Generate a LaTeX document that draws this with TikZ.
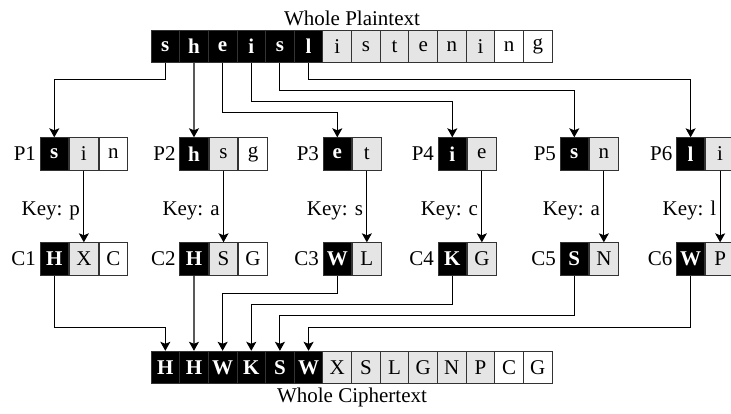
\documentclass[tikz,border=0pt]{standalone}
\usepackage{fontspec}
\setmainfont{Liberation Serif}
\usetikzlibrary{arrows.meta, positioning}
\tikzset{cell/.style = {draw = black!80, line width = 0.9pt, minimum width = 28.65pt, minimum height = 32.5pt, inner sep = 0pt}}
\tikzset{blk/.style = {cell, fill = black, text = white, font = \fontsize{21pt}{25pt}\selectfont\bfseries},
  gry/.style = {cell, fill = black!10}, wht/.style = {cell, fill = white}}
\tikzset{link/.style = {line width = 1.1pt, -{Stealth[length = 9pt, width = 10pt, inset = 2pt]}}}

\begin{document}
\begin{tikzpicture}[x = 1pt, y = -1pt, font = \fontsize{21pt}{25pt}\selectfont]
\useasboundingbox (0,0) rectangle (731,413);
% whole plaintext and ciphertext
\foreach \ltr/\sty [count=\i] in {s/blk, h/blk, e/blk, i/blk, s/blk, l/blk, i/gry, s/gry, t/gry, e/gry, n/gry, i/gry, n/wht, g/wht}
  \node [\sty] (t\i) at ({151 + 28.65*(\i - 0.5)}, 46.5) {\ltr};
\foreach \ltr/\sty [count=\i] in {H/blk, H/blk, W/blk, K/blk, S/blk, W/blk, X/gry, S/gry, L/gry, G/gry, N/gry, P/gry, C/wht, G/wht}
  \node [\sty] (b\i) at ({151 + 28.65*(\i - 0.5)}, 367.5) {\ltr};
\node [above = 0pt] (wp) at (t7.north east) {Whole Plaintext};
\node [below = 0pt] (wc) at (b7.south east) {Whole Ciphertext};
% columns
\foreach \n/\px/\pa/\pb/\ca/\cb in {1/54.3/s/i/H/X, 2/193.975/h/s/H/S, 3/337.3/e/t/W/L, 4/452.3/i/e/K/G, 5/574.3/s/n/S/N, 6/690.6/l/i/W/P} {
  \node [blk] (p\n a) at (\px, 154) {\pa};
  \node [gry, right = 0pt of p\n a] (p\n b) {\pb};
  \node [left = 0pt of p\n a] (lp\n) {P\n};
  \node [blk] (c\n a) at (\px, 259) {\ca};
  \node [gry, right = 0pt of c\n a] (c\n b) {\cb};
  \node [left = 0pt of c\n a] (lc\n) {C\n};
}
\node [wht, right = 0pt of p1b] (p1c) {n};
\node [wht, right = 0pt of p2b] (p2c) {g};
\node [wht, right = 0pt of c1b] (c1c) {C};
\node [wht, right = 0pt of c2b] (c2c) {G};
% keys
\foreach \n/\k in {1/p, 2/a, 3/s, 4/c, 5/a, 6/l}
  \draw [link] (p\n b.south) -- (c\n b.north) node [pos = 0.56, left] {Key: \k};
% plaintext to columns
\draw [link] (t1.south) -- ++(0,16.3) -| (p1a.north);
\draw [link] (t2.south) -- (p2a.north);
\draw [link] (t3.south) -- ++(0,49.7) -| (p3a.north);
\draw [link] (t4.south) -- ++(0,38.7) -| (p4a.north);
\draw [link] (t5.south) -- ++(0,27.7) -| (p5a.north);
\draw [link] (t6.south) -- ++(0,16.3) -| (p6a.north);
% columns to ciphertext
\draw [link] (c1a.south) -- ++(0,51.5) -| (b1.north);
\draw [link] (c2a.south) -- (b2.north);
\draw [link] (c3a.south) -- ++(0,18) -| (b3.north);
\draw [link] (c4a.south) -- ++(0,29) -| (b4.north);
\draw [link] (c5a.south) -- ++(0,40) -| (b5.north);
\draw [link] (c6a.south) -- ++(0,51.5) -| (b6.north);
\end{tikzpicture}
\end{document}
